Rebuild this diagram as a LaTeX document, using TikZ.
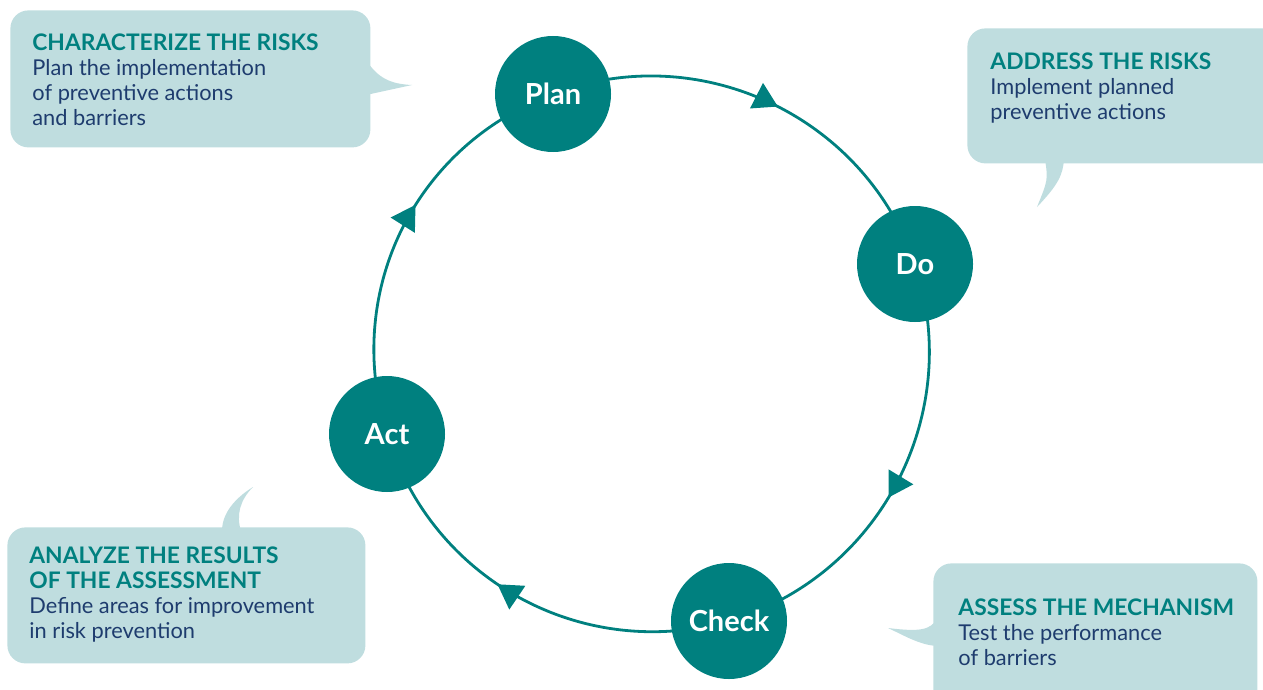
\documentclass[tikz,border=0pt]{standalone}
\usepackage{fontspec}
\setmainfont{Lato}
\usetikzlibrary{arrows.meta, decorations.markings, backgrounds, positioning}
\definecolor{pdcateal}{HTML}{00807F}
\definecolor{calloutfill}{HTML}{BFDDDF}
\definecolor{notetext}{HTML}{1E3C6E}

\tikzset{
  phase/.style={circle, fill=pdcateal, text=white, minimum size=58pt, inner sep=0pt, font=\bfseries\fontsize{14.5}{16}\selectfont},
  callout/.style={fill=calloutfill, rounded corners=9pt, inner sep=0pt, anchor=north west},
  note/.style={anchor=north west, inner sep=0pt, align=left, text=notetext, font=\fontsize{10.9}{12.6}\selectfont},
  cycle arc/.style={draw=pdcateal, line width=1.4pt, postaction={decorate},
    decoration={markings, mark=at position #1 with {\arrow[pdcateal]{Triangle[length=12pt,width=14pt]}}}},
  cycle arc/.default=0.56,
}
\newcommand{\notehead}[1]{{\color{pdcateal}\bfseries\fontsize{11.4}{12.6}\selectfont #1}}

\begin{document}
\begin{tikzpicture}[x=0.5pt, y=-0.5pt]
    \useasboundingbox (0,0) rectangle (1263,690);

    % the four phases
    \node[phase] (plan) at (553,94) {Plan};
    \node[phase] (do) at (915,264) {Do};
    \node[phase] (check) at (729,621) {Check};
    \node[phase] (act) at (387,434) {Act};

    \begin{scope}[on background layer]
        \draw[cycle arc=0.52] (plan.center) to[bend left=46] (do.center);
        \draw[cycle arc=0.54] (do.center) to[bend left=46] (check.center);
        \draw[cycle arc] (check.center) to[bend left=44.5] (act.center);
        \draw[cycle arc=0.57] (act.center) to[bend left=43.5] (plan.center);
    \end{scope}

    % callouts
    \node[callout, minimum width=180pt, minimum height=68.5pt] (planbox) at (10,10) {};
    \fill[calloutfill] (366,60) .. controls (378,78) and (390,84) .. (412,85) -- (366,95) -- cycle;
    \node[note] (plantext) at (32,33) {\notehead{CHARACTERIZE THE RISKS}\\Plan the implementation\\of preventive actions\\and barriers};

    \node[callout, minimum width=161.5pt, minimum height=67.5pt] (dobox) at (967,28) {};
    \fill[calloutfill] (1045,159) .. controls (1048,180) .. (1037,207) .. controls (1058,185) and (1063,175) .. (1064,159) -- cycle;
    \node[note] (dotext) at (990,52) {\notehead{ADDRESS THE RISKS}\\Implement planned\\preventive actions};

    \node[callout, minimum width=162pt, minimum height=75pt] (checkbox) at (933,563) {};
    \fill[calloutfill] (937,619) .. controls (930,630) and (920,632) .. (888,628) .. controls (905,636) and (920,645) .. (937,646) -- cycle;
    \node[note] (checktext) at (958,598) {\notehead{ASSESS THE MECHANISM}\\Test the performance\\of barriers};

    \node[callout, minimum width=179pt, minimum height=68pt] (actbox) at (7,527) {};
    \fill[calloutfill] (222,531) .. controls (222,510) and (240,495) .. (253,487) .. controls (240,500) and (236,515) .. (241,531) -- cycle;
    \node[note] (acttext) at (29,546) {\notehead{ANALYZE THE RESULTS}\\\notehead{OF THE ASSESSMENT}\\Define areas for improvement\\in risk prevention};
\end{tikzpicture}
\end{document}
